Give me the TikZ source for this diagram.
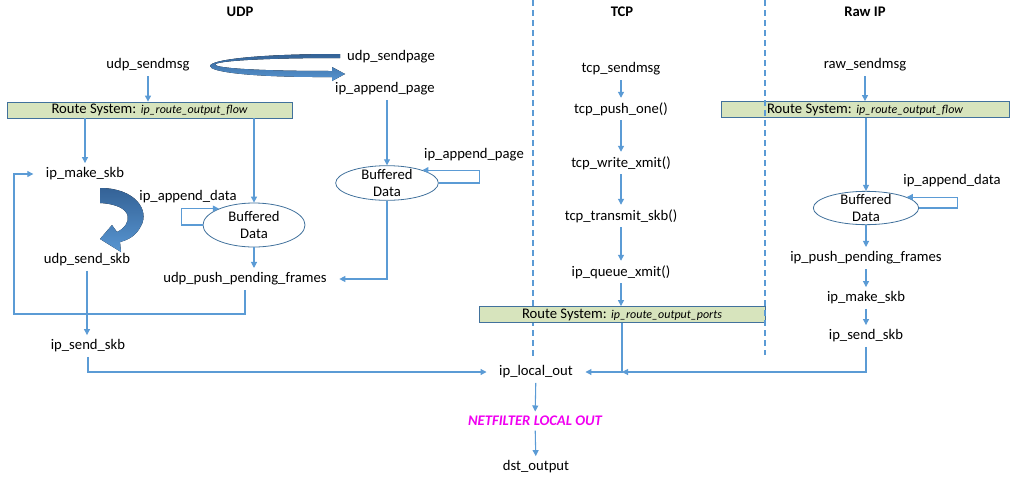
\documentclass[tikz,border=0pt]{standalone}
\usepackage{fontspec}
\setmainfont{Carlito}
\usepackage{tikz}
\definecolor{linkblue}{RGB}{91, 155, 213}
\definecolor{routegreen}{RGB}{215, 228, 189}
\definecolor{routeedge}{RGB}{65, 113, 156}
\definecolor{hookdark}{RGB}{52, 98, 150}
\definecolor{hooklight}{RGB}{88, 150, 210}
\definecolor{nfmagenta}{RGB}{240, 0, 240}
\usetikzlibrary{arrows.meta, positioning, calc, shapes.geometric}
\newcommand{\routefn}[1]{{\fontsize{9}{11}\selectfont\itshape #1}}

\begin{document}
\begin{tikzpicture}[
    x=0.75pt, y=-0.75pt,
    lbl/.style={inner xsep=8pt, inner ysep=2pt, outer sep=1.5pt,
                font=\fontsize{11}{13}\selectfont},
    head/.style={font=\fontsize{11}{13}\selectfont\bfseries},
    route/.style={rectangle, draw=routeedge, fill=routegreen, line width=0.6pt,
                minimum height=12pt, inner sep=0pt, font=\fontsize{11}{13}\selectfont},
    buffer/.style={ellipse, draw=routeedge, line width=0.6pt, inner sep=0pt},
    buftext/.style={align=center, inner sep=0pt, font=\fontsize{11}{12.5}\selectfont},
    nf/.style={inner sep=2pt, outer sep=1.5pt, text=nfmagenta,
                font=\fontsize{11}{13}\selectfont\bfseries\itshape},
    arrow/.style={-{Triangle[width=4.5pt, length=4.5pt]}, linkblue, line width=0.8pt},
    lane/.style={draw=linkblue, dash pattern=on 4.5pt off 3pt, line width=0.8pt},
    hook/.style={top color=hookdark, bottom color=hooklight}
]
    \useasboundingbox (0,0) rectangle (1013,482);

    \draw[lane] (533,0) -- (533,357);

    \node[head] (udphead) at (240,12) {UDP};
    \node[head] (tcphead) at (622,12) {TCP};
    \node[head] (rawhead) at (865,12) {Raw IP};

    \node[lbl] (udpsendmsg) at (148,65) {udp\_sendmsg};
    \node[lbl] (udpsendpage) at (391,57) {udp\_sendpage};
    \node[lbl] (ipappendpage) at (385,89) {ip\_append\_page};
    \node[route, minimum width=213.75pt] (routeudp) at (149.5,110) {Route System: \routefn{ip\_route\_output\_flow}};
    \node[lbl] (ipmakeskb) at (85,174) {ip\_make\_skb};
    \node[lbl] (appenddata) at (188,197) {ip\_append\_data};
    \node[buffer, minimum width=76.5pt, minimum height=33pt] (bufudp) at (254,225) {};
    \node[buftext] (bufudptxt) at (bufudp) {Buffered\\Data};
    \node[lbl] (udpsendskb) at (87,260) {udp\_send\_skb};
    \node[lbl] (udppush) at (245,279) {udp\_push\_pending\_frames};
    \node[lbl] (ipsendskbudp) at (88,346) {ip\_send\_skb};
    \node[buffer, minimum width=77pt, minimum height=26pt] (bufpage) at (387,183) {};
    \node[buftext] (bufpagetxt) at (bufpage) {Buffered\\Data};
    \node[lbl] (appendpage) at (474,155) {ip\_append\_page};

    \fill[hook] (340,54) .. controls (168,54) and (168,78) .. (332,77) -- (332,81) -- (345,74)
        -- (332,67) -- (332,71) .. controls (175,71) and (175,58) .. (340,58) -- cycle;
    \fill[hook] (100,188) .. controls (135,188) and (150,210) .. (141,226)
        .. controls (136,236) and (128,240) .. (120,242) -- (121,252) -- (100,239)
        -- (112,225) -- (117,232) .. controls (132,225) and (136,205) .. (100,203) -- cycle;

    \draw[arrow] (udpsendmsg.south) -- (udpsendmsg.south |- routeudp.north);
    \draw[arrow] (routeudp.south -| ipmakeskb) -- (ipmakeskb.north);
    \draw[arrow] (routeudp.south -| bufudp) -- (bufudp.north);
    \draw[arrow] (bufudp.west) -- ++(-21,0) |- (bufudp.155);
    \draw[arrow] (bufudp.south) -- (bufudp.south |- udppush.north);
    \coordinate (udpret) at (14,314);
    \draw[arrow] (udppush.south) |- (udpret) |- (ipmakeskb.west);
    \draw[arrow] (udpsendskb.south) -- (udpsendskb.south |- ipsendskbudp.north);
    \draw[arrow] (ipappendpage.south -| bufpage) -- (bufpage.north);
    \draw[arrow] (bufpage.east) -- ++(41,0) |- (bufpage.20);
    \draw[arrow] (bufpage.south) |- (udppush.east);

    \node[lbl] (tcpsendmsg) at (621,69) {tcp\_sendmsg};
    \node[lbl] (tcppushone) at (621,109) {tcp\_push\_one()};
    \node[lbl] (tcpwritexmit) at (621,163) {tcp\_write\_xmit()};
    \node[lbl] (tcptransmitskb) at (621,216) {tcp\_transmit\_skb()};
    \node[lbl] (ipqueuexmit) at (621,272) {ip\_queue\_xmit()};
    \node[route, minimum width=214.5pt] (routetcp) at (622,314.5) {Route System: \routefn{ip\_route\_output\_ports}};

    \draw[arrow] (tcpsendmsg) -- (tcppushone);
    \draw[arrow] (tcppushone) -- (tcpwritexmit);
    \draw[arrow] (tcpwritexmit) -- (tcptransmitskb);
    \draw[arrow] (tcptransmitskb) -- (ipqueuexmit);
    \draw[arrow] (ipqueuexmit.south) -- (ipqueuexmit.south |- routetcp.north);

    \node[lbl] (rawsendmsg) at (865,65) {raw\_sendmsg};
    \node[route, minimum width=216pt] (routeraw) at (865,109.5) {Route System: \routefn{ip\_route\_output\_flow}};
    \node[lbl] (appendraw) at (952,181) {ip\_append\_data};
    \node[buffer, minimum width=79pt, minimum height=25pt] (bufraw) at (866,208) {};
    \node[buftext] (bufrawtxt) at (bufraw) {Buffered\\Data};
    \node[lbl] (ippushraw) at (866,258) {ip\_push\_pending\_frames};
    \node[lbl] (ipmakeskbraw) at (866,298) {ip\_make\_skb};
    \node[lbl] (ipsendskbraw) at (866,336) {ip\_send\_skb};

    \draw[arrow] (rawsendmsg.south) -- (rawsendmsg.south |- routeraw.north);
    \draw[arrow] (routeraw.south -| bufraw) -- (bufraw.north);
    \draw[arrow] (bufraw.east) -- ++(38,0) |- (bufraw.15);
    \draw[arrow] (bufraw) -- (ippushraw);
    \draw[arrow] (ippushraw) -- (ipmakeskbraw);
    \draw[arrow] (ipmakeskbraw) -- (ipsendskbraw);

    \node[lbl] (iplocalout) at (536,372) {ip\_local\_out};
    \node[nf] (netfilter) at (535,421) {NETFILTER LOCAL OUT};
    \node[lbl] (dstoutput) at (536,467) {dst\_output};
    \coordinate (tcpjoin) at (routetcp.south |- iplocalout);

    \draw[arrow] (ipsendskbudp.south) |- (iplocalout.west);
    \draw[arrow] (routetcp.south) |- (iplocalout.east);
    \draw[arrow] (ipsendskbraw.south) |- (tcpjoin);
    \draw[arrow] (iplocalout) -- (netfilter);
    \draw[arrow] (netfilter) -- (dstoutput);

    \draw[lane] (765,0) -- (765,355);
\end{tikzpicture}
\end{document}
